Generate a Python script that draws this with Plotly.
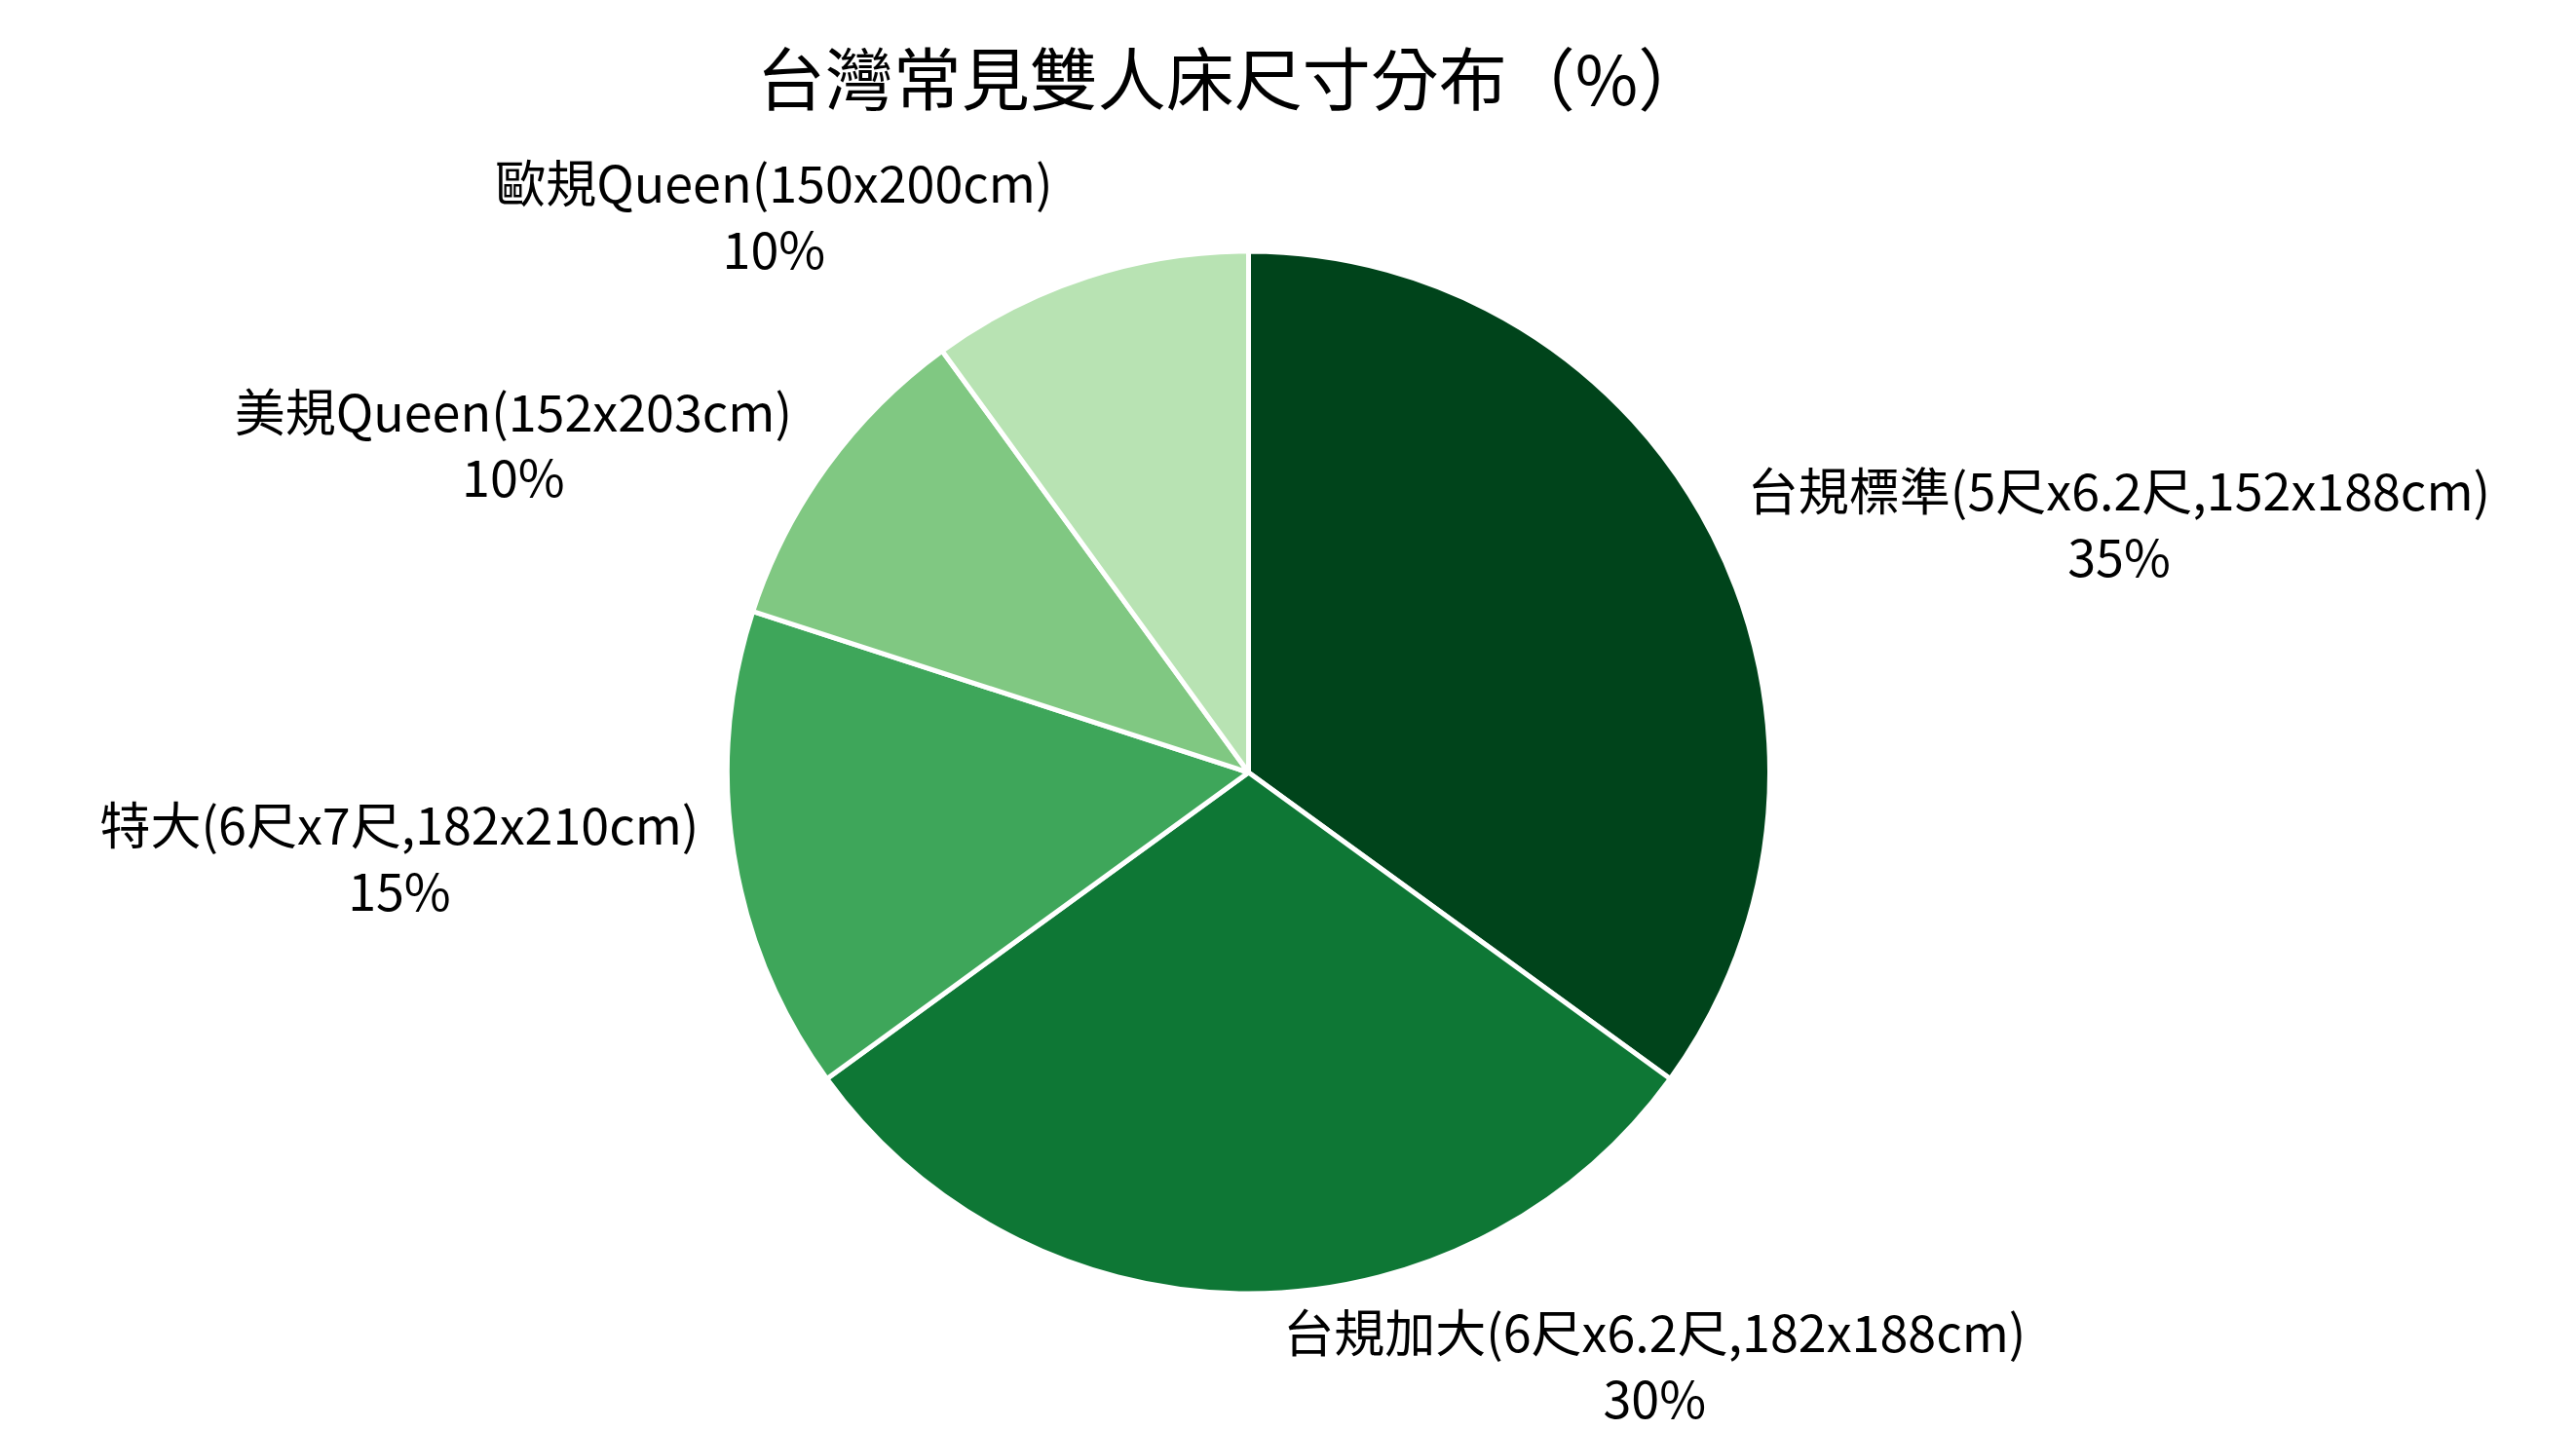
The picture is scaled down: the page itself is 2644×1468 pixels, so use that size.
import plotly.graph_objects as go

labels = ["台規標準(5尺x6.2尺,152x188cm)", "台規加大(6尺x6.2尺,182x188cm)", "特大(6尺x7尺,182x210cm)",
          "美規Queen(152x203cm)", "歐規Queen(150x200cm)"]
values = [35, 30, 15, 10, 10]
colors = ["#00441b", "#0e7735", "#3ea65a", "#80c882", "#b8e3b3"]

fig = go.Figure(go.Pie(
    labels=labels, values=values, sort=False, direction="clockwise", rotation=0,
    marker=dict(colors=colors, line=dict(color="white", width=5)),
    textinfo="label+percent", textposition="outside",
    texttemplate="%{label}<br>%{percent:.0%}",
    textfont=dict(size=52, color="black"), showlegend=False,
))
fig.update_layout(
    width=2644, height=1468,
    font=dict(family="Noto Sans CJK TC"),
    title=dict(text="台灣常見雙人床尺寸分布（%）", x=0.475, xanchor="center", y=0.965,
               font=dict(size=70, color="black")),
    margin=dict(t=250, b=110, l=0, r=112),
    paper_bgcolor="white",
)
fig.write_html("out.html")
